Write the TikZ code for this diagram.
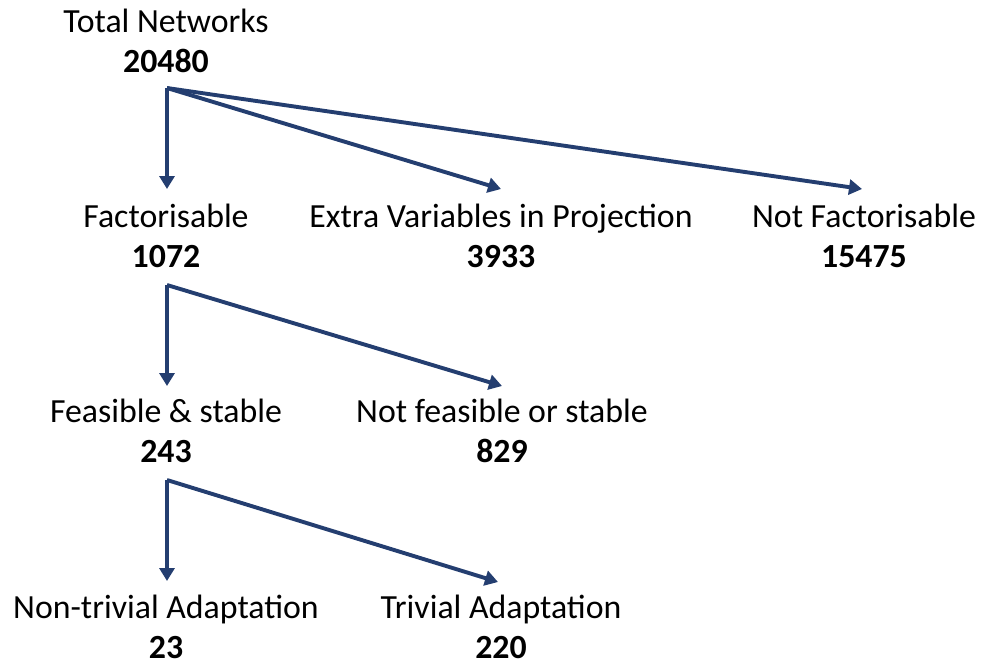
\documentclass[tikz,border=0pt]{standalone}
\usepackage{fontspec}
\setmainfont{Carlito}
\usetikzlibrary{arrows.meta,calc}
\definecolor{navy}{RGB}{36,62,112}
\tikzset{
  lbl/.style={anchor=base,inner sep=0pt,font=\fontsize{33.8}{40}\selectfont},
  num/.style={lbl,font=\fontsize{33.8}{40}\selectfont\bfseries},
  arr/.style={draw=navy,line width=3.9pt,-{Triangle[length=13pt,width=15pt]}}
}
\begin{document}
\begin{tikzpicture}[x=1pt,y=-1pt]
\useasboundingbox (0,0) rectangle (982,665);
% row 1
\node[lbl] (t0) at (166,32) {Total Networks};
\node[num] (n0) at (166,72) {20480};
% row 2
\node[lbl] (t1) at (166,227) {Factorisable};
\node[num] (n1) at (166,267) {1072};
\node[lbl] (t2) at (501,227) {Extra Variables in Projection};
\node[num] (n2) at (501,267) {3933};
\node[lbl] (t3) at (864,227) {Not Factorisable};
\node[num] (n3) at (864,267) {15475};
% row 3
\node[lbl] (t4) at (166,422) {Feasible \& stable};
\node[num] (n4) at (166,462) {243};
\node[lbl] (t5) at (502,422) {Not feasible or stable};
\node[num] (n5) at (502,462) {829};
% row 4
\node[lbl] (t6) at (166,618) {Non-trivial Adaptation};
\node[num] (n6) at (166,658) {23};
\node[lbl] (t7) at (501,618) {Trivial Adaptation};
\node[num] (n7) at (501,658) {220};
% connector origins
\coordinate (o0) at ($(n0.base)+(1,16)$);
\coordinate (o1) at ($(n1.base)+(1,18)$);
\coordinate (o4) at ($(n4.base)+(1,18)$);
% connectors
\draw[arr] (o0) -- ($(t1.base)+(1,-38)$);
\draw[arr] (o0) -- ($(t2.base)+(0,-38)$);
\draw[arr] (o0) -- ($(t3.base)+(-2,-38)$);
\draw[arr] (o1) -- ($(t4.base)+(1,-36)$);
\draw[arr] (o1) -- ($(t5.base)+(0,-36)$);
\draw[arr] (o4) -- ($(t6.base)+(1,-37)$);
\draw[arr] (o4) -- ($(t7.base)+(-3,-36)$);
\end{tikzpicture}
\end{document}
